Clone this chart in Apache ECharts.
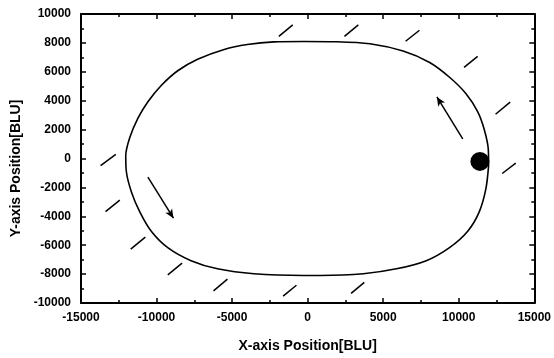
<!DOCTYPE html>
<html><head><meta charset="utf-8">
<script src="https://cdn.jsdelivr.net/npm/echarts@6/dist/echarts.min.js"></script>
<style>html,body{margin:0;padding:0;background:#fff}#c{width:554px;height:358px}</style>
</head><body><div id="c"></div>
<script>
// Trajectory (closed path), counter-clockwise from the right end
const trajectory = [
  [11974, -496], [11954, 632], [11691, 1992], [11250, 3244], [10481, 4488], [9388, 5624],
  [8073, 6644], [6316, 7432], [4125, 7936], [1900, 8080], [-263, 8100], [-2237, 8072],
  [-3993, 7888], [-5526, 7548], [-7283, 6868], [-8599, 6072], [-9691, 5052], [-10572, 3924],
  [-11230, 2788], [-11776, 1428], [-12039, 184], [-11993, -952], [-11664, -2312], [-11118, -3672],
  [-10349, -5032], [-9257, -6168], [-7717, -7072], [-5967, -7636], [-3553, -7976], [-263, -8092],
  [836, -8092], [3684, -7976], [5875, -7636], [7849, -7072], [9388, -6168], [10592, -5032],
  [11362, -3672], [11797, -2088], [11974, -496]
];
// Hatch marks: [x1, y1, x2, y2]
const hatchSegments = [
  [-1908, 8452, -987, 9248], [2434, 8452, 3355, 9248], [6480, 8112, 7402, 8874],
  [10349, 6304, 11250, 7072], [12434, 3060, 13402, 3896], [12875, -1040, 13770, -320],
  [-13704, -496, -12697, 292], [-13375, -3672, -12434, -2876], [-11710, -6276, -10743, -5440],
  [-9257, -8058, -8309, -7242], [-6230, -9160, -5309, -8344], [-1625, -9520, -743, -8772],
  [2875, -9336, 3750, -8568]
];
// Direction arrows: [tailX, tailY, headX, headY]
const arrowSegments = [
  [10263, 1360, 8553, 4264],
  [-10572, -1292, -8882, -4128]
];
// Filled marker
const markerPoint = [[11400, -200]];

const xMin = -15000, xMax = 15000, xStep = 5000;
const yMin = -10000, yMax = 10000, yStep = 2000;
const xName = 'X-axis Position[BLU]';
const yName = 'Y-axis Position[BLU]';

const font = 'Liberation Sans, Arial, sans-serif';
const axisLineStyle = { color: '#000', width: 2 };
function mkX(pos, showLabel) {
  return {
    type: 'value', position: pos, min: xMin, max: xMax, interval: xStep,
    axisLine: { show: true, onZero: false, lineStyle: axisLineStyle },
    axisTick: { show: true, inside: true, length: 5, lineStyle: { color: '#000', width: 1.5 } },
    minorTick: { show: true, splitNumber: 2, length: 3, lineStyle: { color: '#000', width: 1.5 } },
    splitLine: { show: false },
    axisLabel: { show: showLabel, margin: 9, color: '#000', fontFamily: font, fontWeight: 'bold', fontSize: 12, formatter: v => String(v) },
    name: showLabel ? xName : '', nameLocation: 'middle', nameGap: 36,
    nameTextStyle: { color: '#000', fontFamily: font, fontWeight: 'bold', fontSize: 14 }
  };
}
function mkY(pos, showLabel) {
  return {
    type: 'value', position: pos, min: yMin, max: yMax, interval: yStep,
    axisLine: { show: true, onZero: false, lineStyle: axisLineStyle },
    axisTick: { show: true, inside: true, length: 5, lineStyle: { color: '#000', width: 1.5 } },
    minorTick: { show: true, splitNumber: 2, length: 3, lineStyle: { color: '#000', width: 1.5 } },
    splitLine: { show: false },
    axisLabel: { show: showLabel, margin: 10, color: '#000', fontFamily: font, fontWeight: 'bold', fontSize: 12, formatter: v => String(v) },
    name: showLabel ? yName : '', nameLocation: 'middle', nameGap: 58,
    nameTextStyle: { color: '#000', fontFamily: font, fontWeight: 'bold', fontSize: 14, padding: [0, 20, 0, 0] }
  };
}

const chart = echarts.init(document.getElementById('c'), null, { renderer: 'canvas' });
chart.setOption({
  animation: false,
  backgroundColor: '#fff',
  grid: { left: 81, right: 17, top: 14, bottom: 50 },
  xAxis: [mkX('bottom', true), mkX('top', false)],
  yAxis: [mkY('left', true), mkY('right', false)],
  series: [
    {
      type: 'line', data: trajectory, smooth: 0.3, showSymbol: false, symbol: 'none',
      lineStyle: { color: '#000', width: 1.6 }, silent: true
    },
    {
      type: 'line', data: [], silent: true,
      markLine: {
        silent: true, symbol: ['none', 'none'], label: { show: false },
        lineStyle: { color: '#000', width: 1.5, type: 'solid' },
        data: hatchSegments.map(s => [{ coord: [s[0], s[1]] }, { coord: [s[2], s[3]] }])
      }
    },
    {
      type: 'line', data: [], silent: true,
      markLine: {
        silent: true, symbol: ['none', 'arrow'], symbolSize: [6, 9], label: { show: false },
        lineStyle: { color: '#000', width: 1.5, type: 'solid' },
        data: arrowSegments.map(s => [{ coord: [s[0], s[1]] }, { coord: [s[2], s[3]] }])
      }
    },
    {
      type: 'scatter', data: markerPoint, symbol: 'circle', symbolSize: [19, 19],
      itemStyle: { color: '#000', opacity: 1 }, silent: true
    }
  ]
});
</script></body></html>
